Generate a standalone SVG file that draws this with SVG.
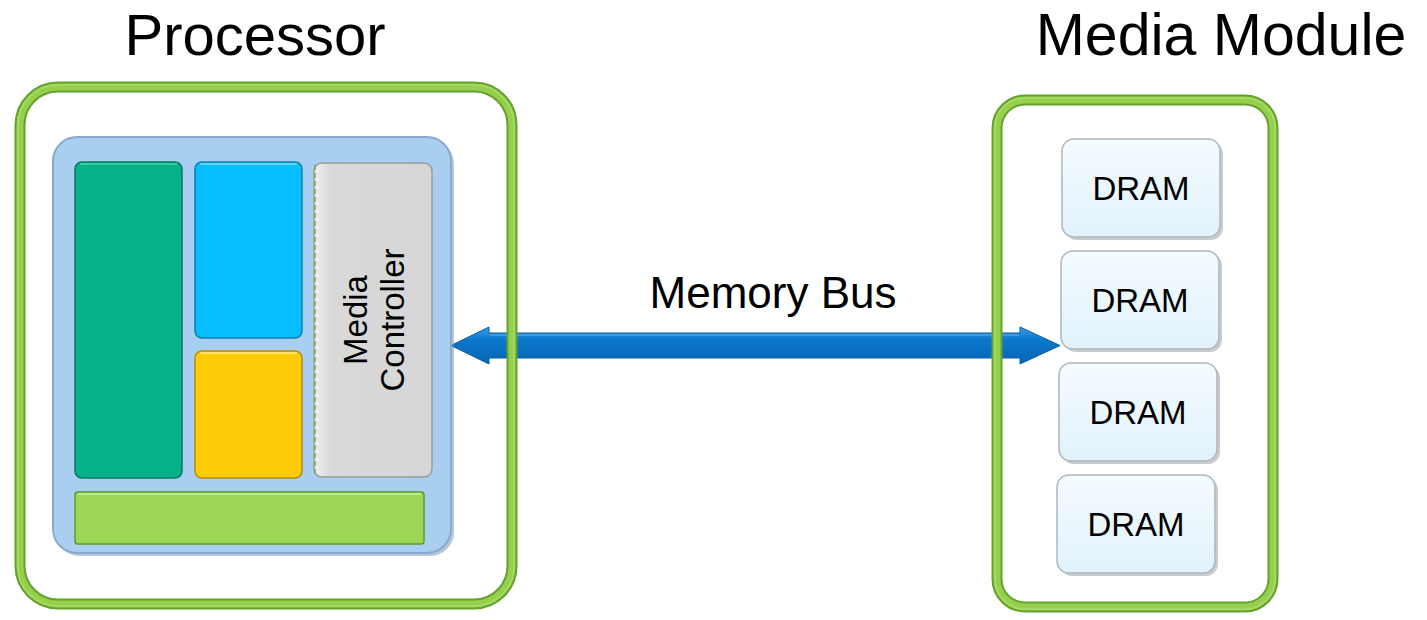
<svg xmlns="http://www.w3.org/2000/svg" width="1427" height="620" viewBox="0 0 1427 620">
<style>
.title{font-family:"Liberation Sans",Arial,sans-serif;fill:#000;text-anchor:middle}
.frameDark{fill:none;stroke:#64A22E;stroke-width:11}
.frameLight{fill:none;stroke:#95CF4C;stroke-width:7}
.frameHi{fill:none;stroke:#B9E27E;stroke-width:1.5}
.dram rect.box{fill:url(#dramGrad);stroke:#AEB6BE;stroke-width:1.5}
.dram rect.sh{fill:#9AA3AB;opacity:.55}
.dram text{font-family:"Liberation Sans",Arial,sans-serif;font-size:33px;fill:#000;text-anchor:middle}
.blk{stroke-width:1.5}
</style>
<defs>
<linearGradient id="dramGrad" x1="0" y1="0" x2="0" y2="1">
<stop offset="0" stop-color="#F4FBFF"/>
<stop offset="1" stop-color="#E1F2FB"/>
</linearGradient>
<linearGradient id="arrowGrad" x1="0" y1="0" x2="0" y2="1">
<stop offset="0" stop-color="#3C9BE2"/>
<stop offset="0.35" stop-color="#0B78CC"/>
<stop offset="1" stop-color="#0766B6"/>
</linearGradient>
<linearGradient id="grayGrad" x1="0" y1="0" x2="1" y2="0">
<stop offset="0" stop-color="#EDEDED"/>
<stop offset="0.15" stop-color="#D9D9D9"/>
<stop offset="1" stop-color="#D6D6D6"/>
</linearGradient>
</defs>
<rect x="0" y="0" width="1427" height="620" fill="#FFFFFF"/>

<text class="title" x="255" y="55" font-size="58">Processor</text>
<text class="title" x="1221" y="55" font-size="59">Media Module</text>

<g id="connectors">
<polygon points="451,345.5 489,327 489,333 1020,333 1020,327 1060,345.5 1020,364 1020,358 489,358 489,364" fill="url(#arrowGrad)" stroke="#0A5C9E" stroke-width="1"/>
<line x1="490" y1="335" x2="1019" y2="335" stroke="#5AAEEA" stroke-width="1.5" opacity="0.7"/>
<text class="title" x="773" y="308" font-size="44">Memory Bus</text>
</g>

<g id="processor">
<rect x="20" y="87" width="492" height="517" rx="38" class="frameDark"/>
<rect x="20" y="87" width="492" height="517" rx="38" class="frameLight"/>
<rect x="18" y="85" width="496" height="521" rx="40" class="frameHi" opacity="0.6"/>
<g id="die">
<rect x="56" y="140" width="398" height="416" rx="24" fill="#6F8FAF" opacity="0.5"/>
<rect x="53" y="137" width="398" height="416" rx="24" fill="#A8CEF0" stroke="#8AAACB" stroke-width="2"/>
</g>
<g id="core-teal">
<rect x="75" y="162" width="107" height="316" rx="7" fill="#07B28A" stroke="#057A5E" class="blk"/>
<line x1="80" y1="164" x2="177" y2="164" stroke="#3CCBA6" stroke-width="2"/>
</g>
<g id="block-blue">
<rect x="195" y="162" width="107" height="176" rx="7" fill="#08BDFD" stroke="#0A7FB0" class="blk"/>
<line x1="200" y1="164" x2="297" y2="164" stroke="#5ED6FF" stroke-width="2"/>
</g>
<g id="block-yellow">
<rect x="195" y="351" width="107" height="127" rx="7" fill="#FECB08" stroke="#B88C08" class="blk"/>
<line x1="200" y1="353" x2="297" y2="353" stroke="#FFE066" stroke-width="2"/>
</g>
<g id="media-controller">
<rect x="314" y="163" width="118" height="314" rx="8" fill="url(#grayGrad)" stroke="#9C9C9C" stroke-width="1.5"/>
<line x1="315" y1="165" x2="315" y2="476" stroke="#6FAF3E" stroke-width="1.5" stroke-dasharray="5,3"/>
<text class="title" font-size="33" transform="translate(367,320) rotate(-90)">Media</text>
<text class="title" font-size="33" transform="translate(404,320) rotate(-90)">Controller</text>
</g>
<g id="bar-green">
<rect x="75" y="492" width="349" height="52" rx="3" fill="#9CD856" stroke="#5E9A2C" class="blk"/>
<line x1="78" y1="494" x2="421" y2="494" stroke="#C2EC8C" stroke-width="2"/>
</g>
</g>

<g id="media-module">
<rect x="997" y="100" width="276" height="507" rx="28" class="frameDark"/>
<rect x="997" y="100" width="276" height="507" rx="28" class="frameLight"/>
<rect x="995" y="98" width="280" height="511" rx="30" class="frameHi" opacity="0.6"/>
<g id="dram1" class="dram">
<rect class="sh" x="1065" y="142" width="158" height="98" rx="12"/>
<rect class="box" x="1062" y="139" width="158" height="98" rx="12"/>
<text x="1141" y="200">DRAM</text>
</g>
<g id="dram2" class="dram">
<rect class="sh" x="1064" y="254" width="158" height="98" rx="12"/>
<rect class="box" x="1061" y="251" width="158" height="98" rx="12"/>
<text x="1140" y="312">DRAM</text>
</g>
<g id="dram3" class="dram">
<rect class="sh" x="1062" y="366" width="158" height="98" rx="12"/>
<rect class="box" x="1059" y="363" width="158" height="98" rx="12"/>
<text x="1138" y="424">DRAM</text>
</g>
<g id="dram4" class="dram">
<rect class="sh" x="1060" y="478" width="158" height="98" rx="12"/>
<rect class="box" x="1057" y="475" width="158" height="98" rx="12"/>
<text x="1136" y="536">DRAM</text>
</g>
</g>
</svg>
